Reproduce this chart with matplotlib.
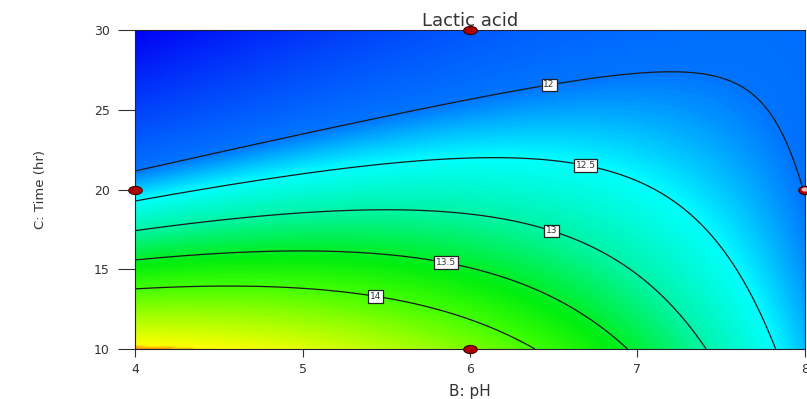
import numpy as np
import matplotlib
matplotlib.use("Agg")
import matplotlib.pyplot as plt
from matplotlib.colors import LinearSegmentedColormap
from matplotlib.path import Path

# contour lines: (pH, time) points for each level
levels = [12.0, 12.5, 13.0, 13.5, 14.0]
pts_12 = [(4.0, 21.2), (5.0, 23.4), (6.47, 26.7), (7.18, 27.4), (7.74, 25.6), (7.92, 22.5), (8.0, 18.7)]
pts_125 = [(4.0, 19.4), (5.0, 20.85), (6.17, 21.74), (6.69, 21.5), (7.14, 19.3), (7.57, 15.1), (7.83, 10.0)]
pts_13 = [(4.0, 17.4), (5.0, 18.5), (6.51, 18.04), (6.77, 16.4), (7.17, 13.3), (7.41, 10.0)]
pts_135 = [(4.0, 15.56), (5.0, 16.0), (5.86, 15.5), (6.38, 13.7), (6.79, 11.2), (6.94, 10.0)]
pts_14 = [(4.0, 13.76), (5.0, 13.8), (5.45, 13.45), (5.99, 11.8), (6.38, 10.0)]

# design points
design_ph = [6, 4, 8, 6]
design_time = [30, 20, 20, 10]

# label spots
label_pos = [(6.47, 26.7), (6.69, 21.5), (6.51, 18.1), (5.86, 15.5), (5.44, 13.5)]

# colour ramp (response value -> colour)
ramp_vals = [12.0, 12.5, 13.0, 13.6, 14.0, 14.4]
ramp_cols = ["#0074ff", "#00ffff", "#00f5a8", "#00ee10", "#40ff00", "#90ff00"]

# fit quadratic response surface to the digitised contours
P, T, Z = [], [], []
for lev, pts in zip(levels, [pts_12, pts_125, pts_13, pts_135, pts_14]):
    for p, t in pts:
        P.append(p); T.append(t); Z.append(lev)
P = np.array(P); T = np.array(T); Z = np.array(Z)
a = (P - 6) / 2
b = (T - 20) / 10
M = np.column_stack([np.ones_like(a), a, b, a * b, a**2, b**2])
coef, *_ = np.linalg.lstsq(M, Z, rcond=None)

ph = np.linspace(4, 8, 300)
tm = np.linspace(10, 30, 300)
PH, TM = np.meshgrid(ph, tm)
A = (PH - 6) / 2
B = (TM - 20) / 10
Y = coef[0] + coef[1]*A + coef[2]*B + coef[3]*A*B + coef[4]*A**2 + coef[5]*B**2

vmin = min(Y.min(), 11.6)
vmax = max(Y.max(), 14.55)
stops = [(0.0, "#0000f5")]
for v, c in zip(ramp_vals, ramp_cols):
    stops.append(((v - vmin) / (vmax - vmin), c))
stops.append(((vmax - 0.05 - vmin) / (vmax - vmin), "#ffff00"))
stops.append((1.0, "#ff9900"))
cmap = LinearSegmentedColormap.from_list("de", stops)

fig = plt.figure(figsize=(8.07, 3.99), dpi=100)
ax = fig.add_axes([0.1673, 0.1253, 0.8302, 0.7995])
ax.imshow(Y, origin="lower", extent=[4, 8, 10, 30], aspect="auto", cmap=cmap,
          vmin=vmin, vmax=vmax, interpolation="bilinear")
cs = ax.contour(PH, TM, Y, levels=levels, colors="#1a1a1a", linewidths=0.9)
lbls = ax.clabel(cs, fmt=lambda v: f"{v:g}", fontsize=6.5, inline=True, inline_spacing=2,
                 manual=label_pos)
for tx in lbls:
    tx.set_rotation(0)
    tx.set_color("#333333")
    tx.set_bbox(dict(facecolor="white", edgecolor="#222222", linewidth=0.9, pad=1.3))

# flattened circle marker like the design points
circ = Path.unit_circle()
ell = Path(circ.vertices * np.array([1.0, 0.6]), circ.codes)
ax.scatter(design_ph, design_time, s=95, marker=ell, color="#b00000", edgecolor="#3a0000",
           linewidth=0.8, zorder=5, clip_on=False)
ax.scatter([8], [20], s=25, marker=ell, color="#f0c0c0", edgecolor="none", zorder=6, clip_on=False)

ax.set_xlim(4, 8)
ax.set_ylim(10, 30)
ax.set_xticks([4, 5, 6, 7, 8])
ax.set_yticks([10, 15, 20, 25, 30])
ax.tick_params(axis="x", direction="out", length=6, pad=4, labelsize=9, colors="#333333")
ax.tick_params(axis="y", direction="out", length=12, pad=6, labelsize=9, colors="#333333")
for s in ax.spines.values():
    s.set_color("#222233")
    s.set_linewidth(0.8)

ax.set_title("Lactic acid", fontsize=13, color="#333333", pad=2)
ax.set_xlabel("B: pH", fontsize=11, color="#333333", labelpad=6)
ax.set_ylabel("C: Time (hr)", fontsize=9.5, color="#333333", labelpad=34,
              family=["Liberation Sans Narrow", "DejaVu Sans"])

fig.savefig("out.png", dpi=100)
